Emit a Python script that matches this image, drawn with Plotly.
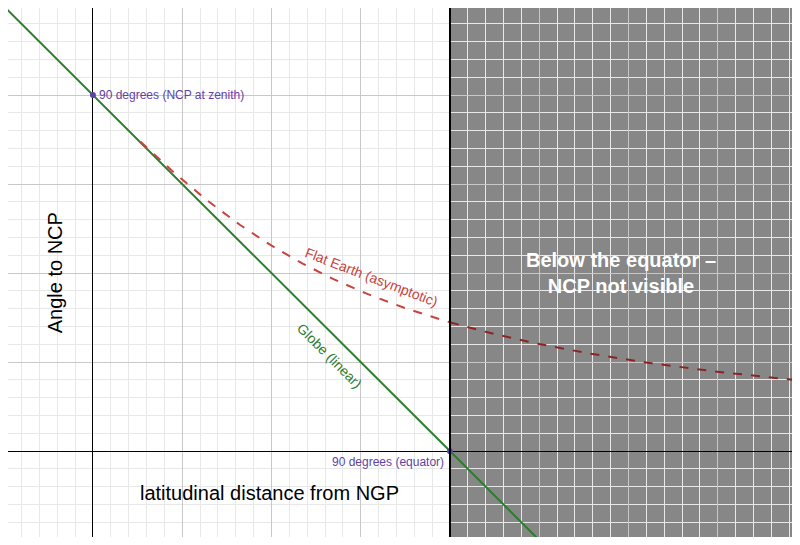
import numpy as np
import plotly.graph_objects as go

# data
globe_x = [-23.4, 113.8]
globe_y = [113.4, -23.8]
flat_h = 57.5  # apparent NCP height giving asymptotic curve
flat_x_vis = list(np.linspace(12, 90, 60))
flat_x_hidden = list(np.linspace(90, 178.2, 60))
points_x = [0, 90]
points_y = [90, 0]

def flat(xs):
    return [float(np.degrees(np.arctan2(flat_h, x))) for x in xs]

fig = go.Figure()
fig.add_shape(type="rect", x0=90, x1=200, y0=-30, y1=120, fillcolor="rgba(70,70,70,0.65)", line_width=0, layer="below")
fig.add_trace(go.Scatter(x=globe_x, y=globe_y, mode="lines", line=dict(color="#2d7d2d", width=2)))
fig.add_trace(go.Scatter(x=flat_x_vis, y=flat(flat_x_vis), mode="lines", line=dict(color="#c74440", width=2, dash="dash")))
fig.add_trace(go.Scatter(x=flat_x_hidden, y=flat(flat_x_hidden), mode="lines", line=dict(color="#8b2525", width=2, dash="dash")))
fig.add_trace(go.Scatter(x=points_x, y=points_y, mode="markers", marker=dict(color="#6042a6", size=6)))
fig.add_shape(type="line", x0=90, x1=90, y0=-30, y1=120, line=dict(color="black", width=2), layer="above")

ann = dict(showarrow=False, xref="x", yref="y")
fig.add_annotation(x=0, y=90, text="90 degrees (NCP at zenith)", xanchor="left", xshift=4, font=dict(color="#6042a6", size=12), **ann)
fig.add_annotation(x=90, y=0, text="90 degrees (equator)", xanchor="right", yanchor="top", xshift=-4, yshift=-2, font=dict(color="#6042a6", size=12), **ann)
fig.add_annotation(x=70.2, y=44, text="Flat Earth (asymptotic)", textangle=21, font=dict(color="#c74440", size=14), **ann)
fig.add_annotation(x=59.7, y=24, text="Globe (linear)", textangle=45, font=dict(color="#2d7d2d", size=14), **ann)
fig.add_annotation(x=-9.5, y=45, text="Angle to NCP", textangle=-90, font=dict(color="black", size=20), **ann)
fig.add_annotation(x=44.5, y=-10.5, text="latitudinal distance from NGP", font=dict(color="black", size=20), **ann)
fig.add_annotation(x=133, y=45, text="<b>Below the equator –<br>NCP not visible</b>", font=dict(color="white", size=20), **ann)

axis = dict(showticklabels=False, ticks="", zeroline=True, zerolinecolor="black", zerolinewidth=1,
            gridcolor="#c8c8c8", gridwidth=1, dtick=22.5, tick0=0,
            minor=dict(dtick=4.5, gridcolor="#e8e8e8", showgrid=True), showline=False)
fig.update_layout(width=784, height=529, margin=dict(l=0, r=0, t=0, b=0), showlegend=False,
                  plot_bgcolor="white", paper_bgcolor="white", font=dict(family="Arial, Liberation Sans"),
                  xaxis=dict(range=[-21.4, 176.2], **axis),
                  yaxis=dict(range=[-21.7, 112.0], **axis))
fig.write_html("out.html")
